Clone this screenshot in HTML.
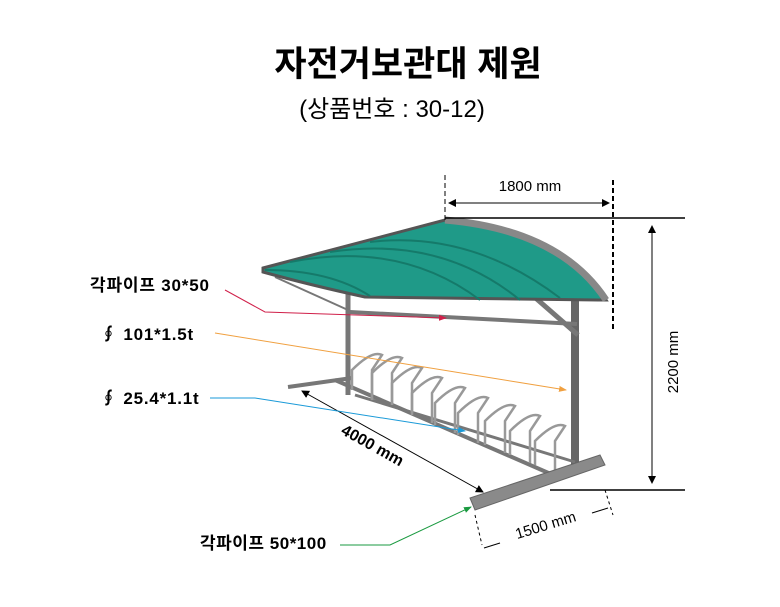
<!DOCTYPE html>
<html><head><meta charset="utf-8"><style>
body{margin:0;background:#fff;width:780px;height:607px;overflow:hidden}
svg{display:block}
.k{font-family:"Liberation Sans","Noto Sans CJK KR",sans-serif}
</style></head><body>
<svg width="780" height="607" viewBox="0 0 780 607" class="k">
<defs>
<marker id="a" markerWidth="8" markerHeight="8" refX="7" refY="4" orient="auto-start-reverse" markerUnits="userSpaceOnUse"><path d="M0,0L8,4L0,8z" fill="#000"/></marker>
<marker id="r" markerWidth="8" markerHeight="8" refX="7" refY="4" orient="auto" markerUnits="userSpaceOnUse"><path d="M0,1L8,4L0,7z" fill="#d0204a"/></marker>
<marker id="o" markerWidth="8" markerHeight="8" refX="7" refY="4" orient="auto" markerUnits="userSpaceOnUse"><path d="M0,1L8,4L0,7z" fill="#f0a040"/></marker>
<marker id="b" markerWidth="8" markerHeight="8" refX="7" refY="4" orient="auto" markerUnits="userSpaceOnUse"><path d="M0,1L8,4L0,7z" fill="#1a9ad8"/></marker>
<marker id="g" markerWidth="8" markerHeight="8" refX="7" refY="4" orient="auto" markerUnits="userSpaceOnUse"><path d="M0,1L8,4L0,7z" fill="#1a9a40"/></marker>
</defs>
<text x="408" y="76" font-size="35" font-weight="bold" text-anchor="middle">자전거보관대 제원</text>
<text x="392" y="117" font-size="24" text-anchor="middle">(상품번호 : 30-12)</text>

<g stroke="#777" fill="none">
<line x1="348" y1="292" x2="348" y2="395" stroke-width="5"/>
<line x1="575" y1="292" x2="575" y2="470" stroke-width="8" stroke="#666"/>
<line x1="350" y1="312" x2="577" y2="324" stroke-width="4"/>
<line x1="460" y1="232" x2="578" y2="335" stroke-width="5"/>
<line x1="275" y1="277" x2="348" y2="310" stroke-width="2"/>
<line x1="288" y1="387" x2="352" y2="378" stroke-width="4"/>
<line x1="335" y1="380" x2="560" y2="478" stroke-width="4"/>
<line x1="355" y1="395" x2="575" y2="462" stroke-width="3"/>
</g>
<g stroke="#999" fill="none" stroke-width="2.5">
<path d="M352,390 v-20 q20,-20 30,-15 l-10,15 v30"/>
<path d="M372,395 v-22 q20,-20 30,-15 l-10,15 v30"/>
<path d="M392,405 v-22 q20,-20 30,-15 l-10,15 v30"/>
<path d="M412,415 v-22 q20,-20 30,-15 l-10,15 v30"/>
<path d="M435,425 v-22 q20,-20 30,-15 l-10,15 v30"/>
<path d="M458,435 v-22 q20,-20 30,-15 l-10,15 v30"/>
<path d="M485,445 v-24 q20,-20 30,-15 l-10,15 v32"/>
<path d="M510,455 v-24 q20,-20 30,-15 l-10,15 v32"/>
<path d="M535,465 v-24 q20,-20 30,-15 l-10,15 v32"/>
</g>
<polygon points="470,498 600,455 605,465 475,510" fill="#8a8a8a" stroke="#666"/>
<path d="M263,268 L445,220 Q560,230 606,300 L598,300 L365,297 Q310,285 263,272 Z" fill="#1f9a88" stroke="#555" stroke-width="3"/>
<path d="M445,220 Q560,230 606,300" fill="none" stroke="#888" stroke-width="7"/>
<g stroke="#157a6a" fill="none" stroke-width="2">
<path d="M290,262 Q400,240 480,300"/><path d="M330,252 Q440,235 520,300"/><path d="M370,242 Q470,230 560,298"/><path d="M265,270 Q330,270 370,296"/>
</g>

<g stroke="#000" fill="none">
<line x1="445" y1="175" x2="445" y2="220" stroke-dasharray="5,3"/>
<line x1="613" y1="180" x2="613" y2="330" stroke-dasharray="5,3" stroke-width="2"/>
<line x1="449" y1="203" x2="609" y2="203" marker-start="url(#a)" marker-end="url(#a)"/>
<line x1="445" y1="218" x2="685" y2="218" stroke-width="1.5"/>
<line x1="550" y1="490" x2="685" y2="490" stroke-width="1.5"/>
<line x1="652" y1="226" x2="652" y2="483" marker-start="url(#a)" marker-end="url(#a)"/>
<line x1="302" y1="391" x2="483" y2="492" marker-start="url(#a)" marker-end="url(#a)"/>
<line x1="605" y1="490" x2="613" y2="515" stroke-dasharray="3,3"/>
<line x1="475" y1="515" x2="482" y2="545" stroke-dasharray="3,3"/>
<line x1="484" y1="548" x2="500" y2="543"/>
<line x1="592" y1="513" x2="608" y2="508"/>
</g>
<text x="530" y="191" font-size="15" text-anchor="middle">1800 mm</text>
<text transform="translate(678,362) rotate(-90)" font-size="15" text-anchor="middle">2200 mm</text>
<text transform="translate(370,450) rotate(29)" font-size="16" font-weight="bold" text-anchor="middle">4000 mm</text>
<text transform="translate(547,530) rotate(-17)" font-size="15" text-anchor="middle">1500 mm</text>

<text x="90" y="291" font-size="17" font-weight="bold" letter-spacing="0.8">각파이프 30*50</text>
<polyline points="225,290 265,312 446,318" fill="none" stroke="#d0204a" marker-end="url(#r)"/>
<text x="100" y="340" font-size="17" font-weight="bold" letter-spacing="0.8">∮ 101*1.5t</text>
<line x1="215" y1="333" x2="566" y2="390" stroke="#f0a040" marker-end="url(#o)"/>
<text x="100" y="404" font-size="17" font-weight="bold" letter-spacing="0.8">∮ 25.4*1.1t</text>
<polyline points="210,398 255,398 465,431" fill="none" stroke="#1a9ad8" marker-end="url(#b)"/>
<text x="200" y="549" font-size="17" font-weight="bold" letter-spacing="0.5">각파이프 50*100</text>
<polyline points="340,545 390,545 471,507" fill="none" stroke="#1a9a40" marker-end="url(#g)"/>
</svg>
</body></html>
